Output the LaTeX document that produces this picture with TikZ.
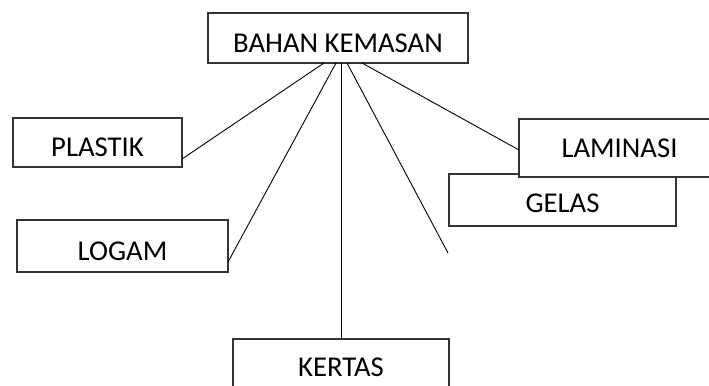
\documentclass[tikz,border=0pt]{standalone}
\usepackage{fontspec}
\setmainfont{Carlito}
\usetikzlibrary{calc}
\begin{document}
\begin{tikzpicture}[x=1bp, y=-1bp,
  box/.style={draw=black!80, line width=1.3bp, fill=white, inner sep=0pt, outer sep=0pt,
    text depth=0pt, font=\fontsize{28.7bp}{34bp}\selectfont},
  link/.style={draw=black, line width=0.9bp}]
  \useasboundingbox (0,0) rectangle (709,385);
  \clip (0,0) rectangle (709,385);

  % category boxes
  \node[box, minimum width=260bp, minimum height=50bp, text height=28bp] (top) at (338,38) {BAHAN KEMASAN};
  \node[box, minimum width=169bp, minimum height=49bp, text height=27bp] (plastik) at (97.5,142.5) {PLASTIK};
  \node[box, minimum width=211bp, minimum height=52bp, text height=28bp] (logam) at (122.5,246) {LOGAM};
  \node[box, minimum width=227bp, minimum height=52bp, text height=24bp] (gelas) at (562.5,200) {GELAS};
  \node[box, minimum width=201bp, minimum height=58bp, text height=18bp] (laminasi) at (619.5,148) {LAMINASI};
  \node[box, minimum width=216bp, minimum height=52bp, text height=22bp] (kertas) at (341,365) {KERTAS};

  % fan of branches from the bottom edge of the main box
  \coordinate (s1) at ($(top.south)+(-14,0)$);
  \coordinate (s2) at ($(top.south)+(-2,0)$);
  \coordinate (s3) at ($(top.south)+(3,0)$);
  \coordinate (s4) at ($(top.south)+(9,0)$);
  \coordinate (s5) at ($(top.south)+(24,0)$);
  \coordinate (loose) at (448,253);

  \draw[link] (s1) -- ($(plastik.south east)+(0,-8)$);
  \draw[link] (s2) -- ($(logam.south east)+(0,-10)$);
  \draw[link] (s3) -- (kertas.north);
  \draw[link] (s4) -- (loose);
  \draw[link] (s5) -- ($(laminasi.west)+(0,2)$);
\end{tikzpicture}
\end{document}
